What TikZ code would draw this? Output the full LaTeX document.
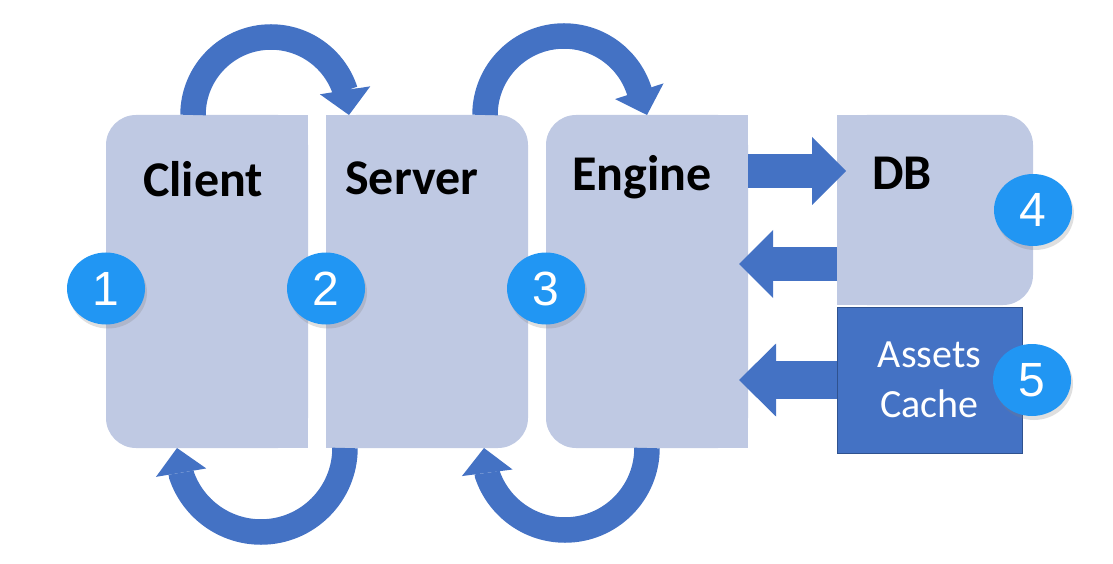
\documentclass[tikz,border=0pt]{standalone}
\usepackage{fontspec}
\setmainfont{Carlito}
\newfontfamily\numfont{Liberation Sans}
\usetikzlibrary{positioning, calc, shapes.geometric, shadows}
\usetikzlibrary{arrows.meta}
\definecolor{boxfill}{RGB}{191,201,227}
\definecolor{arrowblue}{RGB}{68,114,196}
\definecolor{cacheline}{RGB}{47,82,143}
\definecolor{numblue}{RGB}{33,150,243}

\begin{document}
\begin{tikzpicture}[x=1pt, y=1pt, box/.style={fill=boxfill, rounded corners=30pt, inner sep=0pt, outer sep=0pt, minimum width=202pt, minimum height=333pt}, cachebox/.style={fill=arrowblue, draw=cacheline, line width=1pt, inner sep=0pt, outer sep=0pt, minimum width=185pt, minimum height=146pt, align=center, text=white, font=\fontsize{40}{50}\selectfont}, title/.style={inner sep=0pt, anchor=base west, font=\bfseries\fontsize{50}{60}\selectfont}, num/.style={ellipse, fill=numblue, text=white, inner sep=0pt, minimum width=78pt, minimum height=72pt, font=\numfont\fontsize{48}{48}\selectfont, drop shadow={shadow xshift=2pt, shadow yshift=-4pt, opacity=0.25}}, hoparrow/.style={->, >={Triangle[width=51pt, length=25pt, line width=0pt]}, draw=arrowblue, line width=25.5pt}, flowarrow/.style={->, >={Triangle[width=68pt, length=34pt, line width=0pt]}, draw=arrowblue, line width=34pt}, bigflowarrow/.style={->, >={Triangle[width=73pt, length=37pt, line width=0pt]}, draw=arrowblue, line width=38pt}]

    \useasboundingbox (0,0) rectangle (1113,563);

    %Nodes
    \node[box](client) at (207,281.5){};
    \node[box](server)[right=18pt of client]{};
    \node[box](engine)[right=18pt of server]{};
    \node[box, minimum width=196pt, minimum height=190pt](db)[below right=0pt and 89pt of engine.north east]{};
    \node[cachebox](assets)[below=2pt of db.south west, anchor=north west]{Assets\\Cache};

    %square corners
    \fill[boxfill] (client.north) rectangle (client.south east);
    \fill[boxfill] (server.north west) rectangle (server.south);
    \fill[boxfill] (engine.north) rectangle (engine.south east);
    \fill[boxfill] (db.north west) rectangle (db.south);

    \node[title](clientlbl) at ([shift={(37,-82)}]client.north west){Client};
    \node[title](serverlbl) at ([shift={(19,-80)}]server.north west){Server};
    \node[title](enginelbl) at ([shift={(26,-76)}]engine.north west){Engine};
    \node[title](dblbl) at ([shift={(35,-75)}]db.north west){DB};

    \coordinate (dbin) at ([shift={(9,-56)}]db.north west);
    \coordinate (dbout) at ([yshift=-54pt]db.west);

    %Lines
    \draw[hoparrow] ([xshift=-14pt]client.north) arc[start angle=180, end angle=18, radius=78] -- ([xshift=23pt]server.north west);
    \draw[hoparrow] ([xshift=-43pt]server.north east) arc[start angle=180, end angle=16, radius=79] -- (engine.north);
    \draw[hoparrow] ([xshift=19pt]server.south west) arc[start angle=0, end angle=-161, radius=84] -- ([xshift=-30pt]client.south);
    \draw[hoparrow] (engine.south) arc[start angle=0, end angle=-161, radius=82] -- ([xshift=-44pt]server.south east);
    \draw[flowarrow] (engine.east |- dbin) -- (dbin);
    \draw[flowarrow] (dbout) -- ($(engine.east |- dbout)+(-9,0)$);
    \draw[bigflowarrow] (assets.west) -- ($(engine.east |- assets.west)+(-9,0)$);

    %Numbers
    \node[num](n1) at ([yshift=-7pt]client.west){1};
    \node[num](n2) at ([yshift=-7pt]server.west){2};
    \node[num](n3) at ([yshift=-7pt]engine.west){3};
    \node[num](n4) at (db.east){4};
    \node[num](n5) at ([xshift=10pt]assets.east){5};

\end{tikzpicture}
\end{document}
